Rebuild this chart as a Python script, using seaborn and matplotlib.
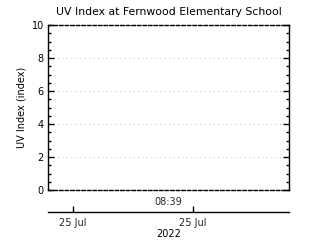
import matplotlib
matplotlib.use("Agg")
import matplotlib.pyplot as plt
import seaborn as sns
import numpy as np

sns.set_theme(style="white")
plt.rcParams['font.family'] = ['DejaVu Sans']

title = "UV Index at Fernwood Elementary School"
ylabel = "UV Index (index)"
times = []          # no observations shown in the reference
uv_values = []
y_ticks = [0, 2, 4, 6, 8, 10]
grid_levels = [2, 4, 6, 8]
time_tick_label = "08:39"
date_tick_labels = ["25 Jul", "25 Jul"]
year_label = "2022"

fig = plt.figure(figsize=(3.2, 2.4), dpi=100)
fig.patch.set_facecolor("white")
ax = fig.add_axes([48/320, 50/240, 241/320, 165/240])
ax.set_facecolor("white")

if len(times):
    sns.lineplot(x=times, y=uv_values, ax=ax, color="black")

ax.set_xlim(0, 1)
ax.set_ylim(0, 10)
ax.set_yticks(y_ticks)
ax.set_yticklabels([str(t) for t in y_ticks], fontsize=7)
ax.set_yticks(np.arange(0, 10.01, 0.5), minor=True)
ax.set_xticks([0.5])
ax.set_xticklabels([time_tick_label], fontsize=7)
ax.tick_params(axis='x', length=0, pad=5)
ax.tick_params(axis='y', which='major', direction='in', length=4, width=1,
               color='black', left=True, right=True, pad=3, labelcolor='black')
ax.tick_params(axis='y', which='minor', direction='in', length=2.5, width=1,
               color='black', left=True, right=True)

for lv in grid_levels:
    ax.axhline(lv, xmin=0.02, xmax=0.98, color="#c8c8c8", linestyle=(0, (1, 3)),
               linewidth=0.8, zorder=0)

for side in ['left', 'right']:
    ax.spines[side].set_color('black')
    ax.spines[side].set_linewidth(1)
for side in ['top', 'bottom']:
    ax.spines[side].set_color('black')
    ax.spines[side].set_linewidth(1)
    ax.spines[side].set_linestyle((0, (2.5, 1.5)))

ax.set_title(title, fontsize=7.8, pad=7, color='black')
ax.set_ylabel(ylabel, fontsize=7, labelpad=4, color='black')

ax2 = fig.add_axes([48/320, 28/240, 241/320, 0.001])
ax2.set_xlim(0, 1)
ax2.set_facecolor('none')
for side in ['left', 'right', 'top']:
    ax2.spines[side].set_visible(False)
ax2.spines['bottom'].set_color('black')
ax2.spines['bottom'].set_linewidth(1)
ax2.set_yticks([])
ax2.set_xticks([0.104, 0.60])
ax2.set_xticklabels(date_tick_labels, fontsize=7)
ax2.tick_params(axis='x', direction='in', length=4, width=1, color='black', pad=4, bottom=True)
ax2.set_xlabel(year_label, fontsize=7, labelpad=1, color='black')

fig.savefig("out.png", dpi=100, facecolor="white")
